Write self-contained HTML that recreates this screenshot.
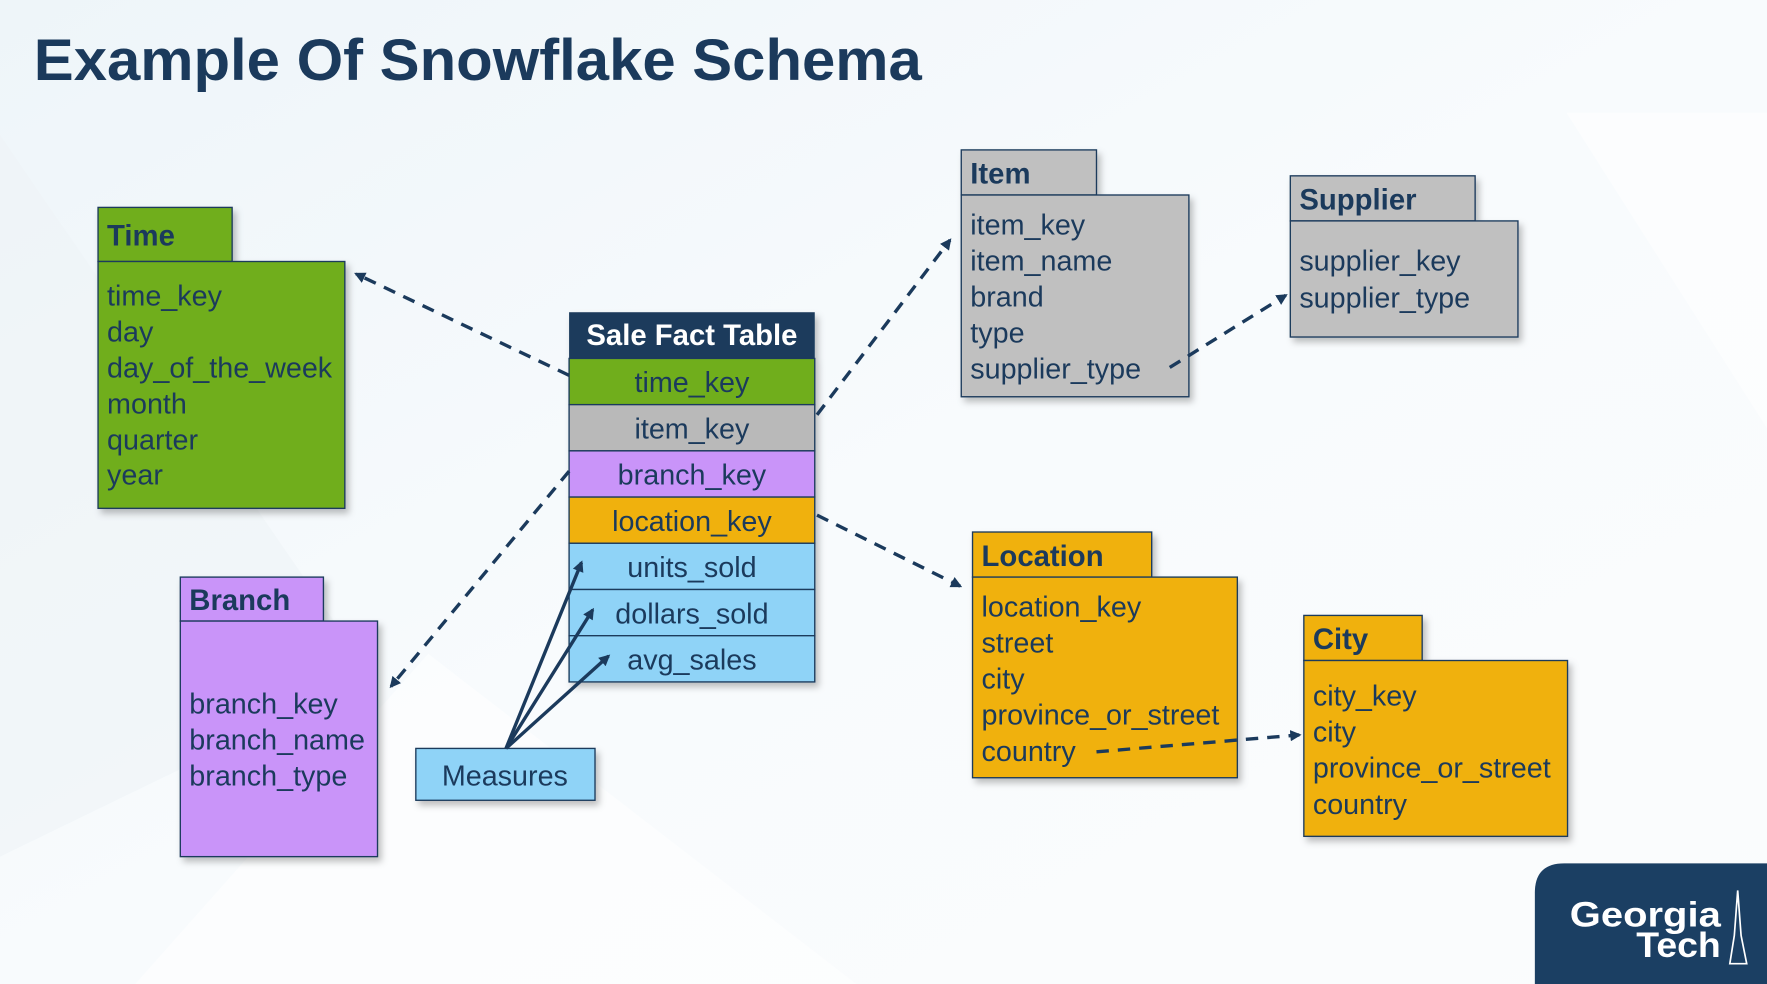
<!DOCTYPE html>
<html><head><meta charset="utf-8"><style>
html,body{margin:0;padding:0;width:1767px;height:984px;overflow:hidden;background:#f5f9fc}
svg{display:block}
text{font-family:"Liberation Sans",sans-serif;fill:#1b3a5c}
.h{font-weight:bold;font-size:26px}
.f{font-size:25.5px}
.c{text-anchor:middle}
rect.b{stroke:#1b3a5c;stroke-width:1.2}
</style></head><body>
<svg width="1767" height="984" viewBox="0 0 1568 873" preserveAspectRatio="none">
<defs>
<linearGradient id="bg" x1="0" y1="0" x2="1" y2="1"><stop offset="0" stop-color="#eef5f9"/><stop offset="0.5" stop-color="#f8fbfd"/><stop offset="1" stop-color="#fbfcfd"/></linearGradient>
<filter id="sh" x="-10%" y="-10%" width="130%" height="130%"><feDropShadow dx="3" dy="4" stdDeviation="3" flood-color="#000" flood-opacity="0.25"/></filter>
<marker id="ah" markerWidth="10" markerHeight="10" refX="8" refY="5" orient="auto" markerUnits="userSpaceOnUse"><path d="M0,0 L10,5 L0,10 z" fill="#1b3a5c"/></marker>
</defs>
<rect width="1568" height="873" fill="url(#bg)"/>
<polygon points="0,120 330,600 0,760" fill="#eef3f7" opacity="0.6"/>
<polygon points="380,580 760,873 120,873" fill="#ffffff" opacity="0.5"/>
<polygon points="1390,100 1568,380 1568,100" fill="#ffffff" opacity="0.5"/>
<text x="30" y="71" textLength="788" lengthAdjust="spacingAndGlyphs" style="font-weight:bold;font-size:52px">Example Of Snowflake Schema</text>

<g filter="url(#sh)">
<rect class="b" x="87" y="184" width="119" height="48" fill="#6fae1c"/>
<rect class="b" x="87" y="232" width="219" height="219" fill="#6fae1c"/>
<rect class="b" x="160" y="512" width="127" height="39" fill="#c994f9"/>
<rect class="b" x="160" y="551" width="175" height="209" fill="#c994f9"/>
<rect class="b" x="369" y="664" width="159" height="46" fill="#8fd3f7"/>
<rect x="505" y="277" width="218" height="41" fill="#1b3a5c"/>
<rect class="b" x="505" y="318" width="218" height="41" fill="#6fae1c"/>
<rect class="b" x="505" y="359" width="218" height="41" fill="#b9b9b9"/>
<rect class="b" x="505" y="400" width="218" height="41" fill="#c994f9"/>
<rect class="b" x="505" y="441" width="218" height="41" fill="#f0b10f"/>
<rect class="b" x="505" y="482" width="218" height="41" fill="#8fd3f7"/>
<rect class="b" x="505" y="523" width="218" height="41" fill="#8fd3f7"/>
<rect class="b" x="505" y="564" width="218" height="41" fill="#8fd3f7"/>
<rect class="b" x="853" y="133" width="120" height="40" fill="#c0c0c0"/>
<rect class="b" x="853" y="173" width="202" height="179" fill="#c0c0c0"/>
<rect class="b" x="1145" y="156" width="164" height="40" fill="#c0c0c0"/>
<rect class="b" x="1145" y="196" width="202" height="103" fill="#c0c0c0"/>
<rect class="b" x="863" y="472" width="159" height="40" fill="#f0b10f"/>
<rect class="b" x="863" y="512" width="235" height="178" fill="#f0b10f"/>
<rect class="b" x="1157" y="546" width="105" height="40" fill="#f0b10f"/>
<rect class="b" x="1157" y="586" width="234" height="156" fill="#f0b10f"/>
</g>

<text class="h" x="95" y="218">Time</text>
<text class="f" x="95" y="271">time_key</text>
<text class="f" x="95" y="303">day</text>
<text class="f" x="95" y="335">day_of_the_week</text>
<text class="f" x="95" y="367">month</text>
<text class="f" x="95" y="399">quarter</text>
<text class="f" x="95" y="430">year</text>

<text class="h" x="168" y="541">Branch</text>
<text class="f" x="168" y="633">branch_key</text>
<text class="f" x="168" y="665">branch_name</text>
<text class="f" x="168" y="697">branch_type</text>

<text class="f c" x="448" y="697">Measures</text>

<text class="h c" x="614" y="306" style="fill:#fff">Sale Fact Table</text>
<text class="f c" x="614" y="348">time_key</text>
<text class="f c" x="614" y="389">item_key</text>
<text class="f c" x="614" y="430">branch_key</text>
<text class="f c" x="614" y="471">location_key</text>
<text class="f c" x="614" y="512">units_sold</text>
<text class="f c" x="614" y="553">dollars_sold</text>
<text class="f c" x="614" y="594">avg_sales</text>

<text class="h" x="861" y="163">Item</text>
<text class="f" x="861" y="208">item_key</text>
<text class="f" x="861" y="240">item_name</text>
<text class="f" x="861" y="272">brand</text>
<text class="f" x="861" y="304">type</text>
<text class="f" x="861" y="336">supplier_type</text>

<text class="h" x="1153" y="186">Supplier</text>
<text class="f" x="1153" y="240">supplier_key</text>
<text class="f" x="1153" y="273">supplier_type</text>

<text class="h" x="871" y="502">Location</text>
<text class="f" x="871" y="547">location_key</text>
<text class="f" x="871" y="579">street</text>
<text class="f" x="871" y="611">city</text>
<text class="f" x="871" y="643">province_or_street</text>
<text class="f" x="871" y="675">country</text>

<text class="h" x="1165" y="576">City</text>
<text class="f" x="1165" y="626">city_key</text>
<text class="f" x="1165" y="658">city</text>
<text class="f" x="1165" y="690">province_or_street</text>
<text class="f" x="1165" y="722">country</text>

<g stroke="#1b3a5c" stroke-width="3" fill="none" stroke-dasharray="11,8" marker-end="url(#ah)">
<line x1="505" y1="333" x2="316" y2="243"/>
<line x1="725" y1="368" x2="843" y2="213"/>
<line x1="1038" y1="326" x2="1141" y2="262"/>
<line x1="505" y1="418" x2="347" y2="609"/>
<line x1="725" y1="457" x2="852" y2="520"/>
<line x1="973" y1="667" x2="1153" y2="652"/>
</g>
<g stroke="#1b3a5c" stroke-width="3" fill="none" marker-end="url(#ah)">
<line x1="449" y1="664" x2="516" y2="499"/>
<line x1="449" y1="664" x2="526" y2="541"/>
<line x1="449" y1="664" x2="540" y2="582"/>
</g>

<path d="M1362,873 L1362,792 Q1362,766 1388,766 L1568,766 L1568,873 z" fill="#1b3f63"/>
<text x="1393" y="822" textLength="134" lengthAdjust="spacingAndGlyphs" style="fill:#fff;font-weight:900;font-size:31px">Georgia</text>
<text x="1452" y="849" textLength="75" lengthAdjust="spacingAndGlyphs" style="fill:#fff;font-weight:900;font-size:31px">Tech</text>
<path d="M1542,790 L1545,830 L1550,855 L1535,855 L1539,830 z" fill="none" stroke="#fff" stroke-width="1.5"/>
</svg>
</body></html>
